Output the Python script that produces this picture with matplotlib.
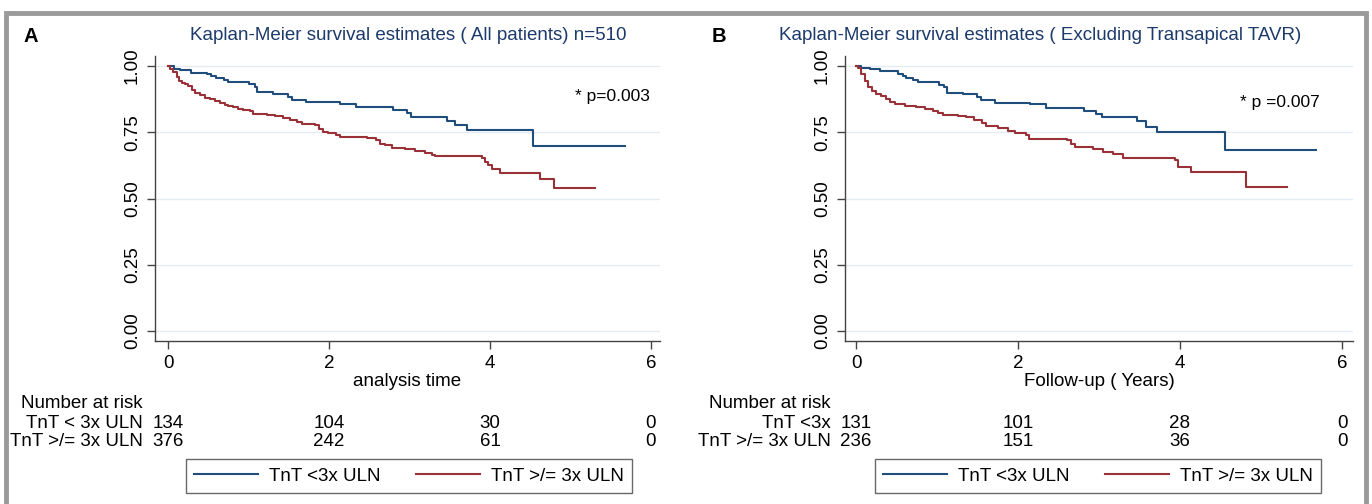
import matplotlib
matplotlib.use("Agg")
import matplotlib.pyplot as plt
import matplotlib.transforms as mtransforms
from matplotlib.patches import Rectangle

# ---------------- data ----------------
# Panel A (all patients)
tA_low = [0.07, 0.15, 0.29, 0.48, 0.54, 0.60, 0.69, 0.75, 1.01, 1.08, 1.10, 1.31, 1.49, 1.54,
          1.71, 2.14, 2.33, 2.80, 2.97, 3.02, 3.46, 3.56, 3.71, 4.54]
sA_low = [0.990, 0.984, 0.975, 0.969, 0.961, 0.955, 0.948, 0.940, 0.931, 0.921, 0.902, 0.896,
          0.883, 0.871, 0.863, 0.857, 0.845, 0.835, 0.824, 0.808, 0.793, 0.779, 0.758, 0.698]
endA_low = 5.68

tA_high = [0.025, 0.066, 0.108, 0.141, 0.170, 0.211, 0.253, 0.294, 0.335, 0.398, 0.46, 0.52,
           0.584, 0.646, 0.708, 0.75, 0.81, 0.874, 0.936, 1.02, 1.06, 1.23, 1.33, 1.43, 1.52,
           1.60, 1.66, 1.83, 1.87, 1.93, 1.99, 2.09, 2.14, 2.47, 2.59, 2.63, 2.70, 2.78, 2.94,
           3.07, 3.19, 3.28, 3.32, 3.90, 3.94, 3.98, 4.02, 4.12, 4.62, 4.79]
sA_high = [0.990, 0.977, 0.958, 0.943, 0.935, 0.931, 0.923, 0.908, 0.898, 0.892, 0.880, 0.877,
           0.868, 0.861, 0.854, 0.849, 0.845, 0.839, 0.833, 0.830, 0.820, 0.816, 0.810, 0.805,
           0.795, 0.789, 0.780, 0.776, 0.764, 0.751, 0.747, 0.739, 0.732, 0.729, 0.720, 0.707,
           0.701, 0.692, 0.686, 0.678, 0.672, 0.663, 0.660, 0.651, 0.638, 0.626, 0.613, 0.598,
           0.573, 0.540]
endA_high = 5.30

# Panel B (excluding transapical TAVR)
tB_low = [0.066, 0.17, 0.30, 0.52, 0.58, 0.62, 0.70, 0.77, 1.03, 1.09, 1.12, 1.32, 1.49, 1.54,
          1.71, 2.15, 2.35, 2.81, 2.96, 3.04, 3.47, 3.58, 3.72, 4.56]
sB_low = [0.994, 0.988, 0.981, 0.971, 0.963, 0.954, 0.946, 0.938, 0.929, 0.919, 0.900, 0.894,
          0.884, 0.871, 0.861, 0.855, 0.843, 0.831, 0.819, 0.806, 0.791, 0.771, 0.751, 0.684]
endB_low = 5.68

tB_high = [0.025, 0.066, 0.107, 0.148, 0.198, 0.25, 0.31, 0.37, 0.42, 0.48, 0.60, 0.745, 0.85,
           0.95, 1.01, 1.07, 1.26, 1.36, 1.46, 1.55, 1.61, 1.75, 1.88, 1.96, 2.10, 2.14, 2.60,
           2.66, 2.70, 2.93, 3.05, 3.17, 3.30, 3.94, 3.97, 4.14, 4.82]
sB_high = [0.991, 0.969, 0.944, 0.921, 0.906, 0.896, 0.888, 0.875, 0.866, 0.856, 0.850, 0.844,
           0.838, 0.831, 0.824, 0.815, 0.811, 0.806, 0.796, 0.784, 0.774, 0.765, 0.756, 0.749,
           0.741, 0.726, 0.720, 0.704, 0.694, 0.685, 0.676, 0.669, 0.651, 0.645, 0.619, 0.600,
           0.544]
endB_high = 5.32

risk_times = [0, 2, 4, 6]
riskA_low = [134, 104, 30, 0]
riskA_high = [376, 242, 61, 0]
riskB_low = [131, 101, 28, 0]
riskB_high = [236, 151, 36, 0]

x_ticks = [0, 2, 4, 6]
y_ticks = [0.0, 0.25, 0.50, 0.75, 1.00]
y_ticklabels = ["0.00", "0.25", "0.50", "0.75", "1.00"]

titleA = "Kaplan-Meier survival estimates ( All patients) n=510"
titleB = "Kaplan-Meier survival estimates ( Excluding Transapical TAVR)"
xlabelA = "analysis time"
xlabelB = "Follow-up ( Years)"
rowlabelsA = ["TnT < 3x ULN", "TnT >/= 3x ULN"]
rowlabelsB = ["TnT <3x", "TnT >/= 3x ULN"]
legend_labels = ["TnT <3x ULN", "TnT >/= 3x ULN"]
pA = "* p=0.003"
pB = "* p =0.007"

# ---------------- style ----------------
FONT = ["Liberation Sans", "DejaVu Sans"]
plt.rcParams["font.family"] = FONT
BLUE = "#1f4d7c"
RED = "#9a3038"
TITLE_C = "#1c3a6b"
GRID_C = "#e4ecf1"
AX_C = "#444444"
FS = 13.5

W, H = 1372, 504
fig = plt.figure(figsize=(W / 100, H / 100), dpi=100)


def fx(px):
    return px / W


def fy(py):
    return 1 - py / H


def km(t, s, end):
    return [0.0] + list(t) + [end], [1.0] + list(s) + [s[-1]]


def panel(left, right, t0, scale, curves, xlabel, title, title_x, ptext, pxy,
          rowlabels, risks, label_right, letter, letter_x):
    top, bottom = 56, 341
    ax = fig.add_axes([fx(left), fy(bottom), fx(right - left), (bottom - top) / H])
    ax.set_xlim((left - t0) / scale, (right - t0) / scale)
    ax.set_ylim((331 - bottom) / 265, (331 - top) / 265)
    for (t, s, end, c) in curves:
        xs, ys = km(t, s, end)
        ax.step(xs, ys, where="post", color=c, lw=1.5)
    ax.set_xticks(x_ticks)
    ax.set_yticks(y_ticks)
    ax.set_yticklabels(y_ticklabels, rotation=90, va="center")
    ax.tick_params(axis="both", direction="out", length=6, width=1, color=AX_C,
                   labelsize=FS, labelcolor="black")
    ax.tick_params(axis="x", pad=4)
    ax.tick_params(axis="y", pad=4)
    for sp in ["top", "right"]:
        ax.spines[sp].set_visible(False)
    for sp in ["left", "bottom"]:
        ax.spines[sp].set_color(AX_C)
        ax.spines[sp].set_linewidth(1)
    ax.yaxis.grid(True, color=GRID_C, lw=1)
    ax.set_axisbelow(True)
    ax.set_xlabel(xlabel, fontsize=FS, labelpad=1)
    fig.text(fx(title_x), fy(36), title, ha="center", va="center",
             fontsize=13.5, color=TITLE_C)
    fig.text(fx(letter_x), fy(36), letter, ha="left", va="center",
             fontsize=14.5, fontweight="bold")
    fig.text(fx(pxy[0]), fy(pxy[1]), ptext, ha="center", va="center", fontsize=12.5)
    trans = mtransforms.blended_transform_factory(ax.transData, fig.transFigure)
    xl = (label_right - t0) / scale
    ax.text(xl, fy(404), "Number at risk", transform=trans, ha="right", va="center",
            fontsize=FS, clip_on=False)
    for row, (lab, vals) in enumerate(zip(rowlabels, risks)):
        yy = fy(423 + 19 * row)
        ax.text(xl, yy, lab, transform=trans, ha="right", va="center", fontsize=FS,
                clip_on=False)
        for tt, v in zip(risk_times, vals):
            ax.text(tt, yy, str(v), transform=trans, ha="center", va="center",
                    fontsize=FS, clip_on=False)
    return ax


axA = panel(155, 660, 168, 80.5,
            [(tA_low, sA_low, endA_low, BLUE), (tA_high, sA_high, endA_high, RED)],
            xlabelA, titleA, 408, pA, (612, 97), rowlabelsA, [riskA_low, riskA_high],
            143, "A", 24)
axB = panel(845, 1353, 856, 81.0,
            [(tB_low, sB_low, endB_low, BLUE), (tB_high, sB_high, endB_high, RED)],
            xlabelB, titleB, 1040, pB, (1280, 103), rowlabelsB, [riskB_low, riskB_high],
            831, "B", 712)

for ax, cx in [(axA, 409), (axB, 1098)]:
    h = ax.get_lines()
    leg = fig.legend(h[:2], legend_labels, loc="center", ncol=2,
                     bbox_to_anchor=(fx(cx), fy(476)), fontsize=FS,
                     handlelength=3.4, handletextpad=0.6, columnspacing=1.9,
                     frameon=True, fancybox=False, borderpad=0.45)
    leg.get_frame().set_edgecolor(AX_C)
    leg.get_frame().set_linewidth(1)

fig.patches.append(Rectangle((fx(6), fy(560)), fx(1360), (560 - 13) / H,
                             transform=fig.transFigure, fill=False,
                             edgecolor="#9a9a9a", lw=3.5, clip_on=False))

fig.savefig("out.png", dpi=100)
